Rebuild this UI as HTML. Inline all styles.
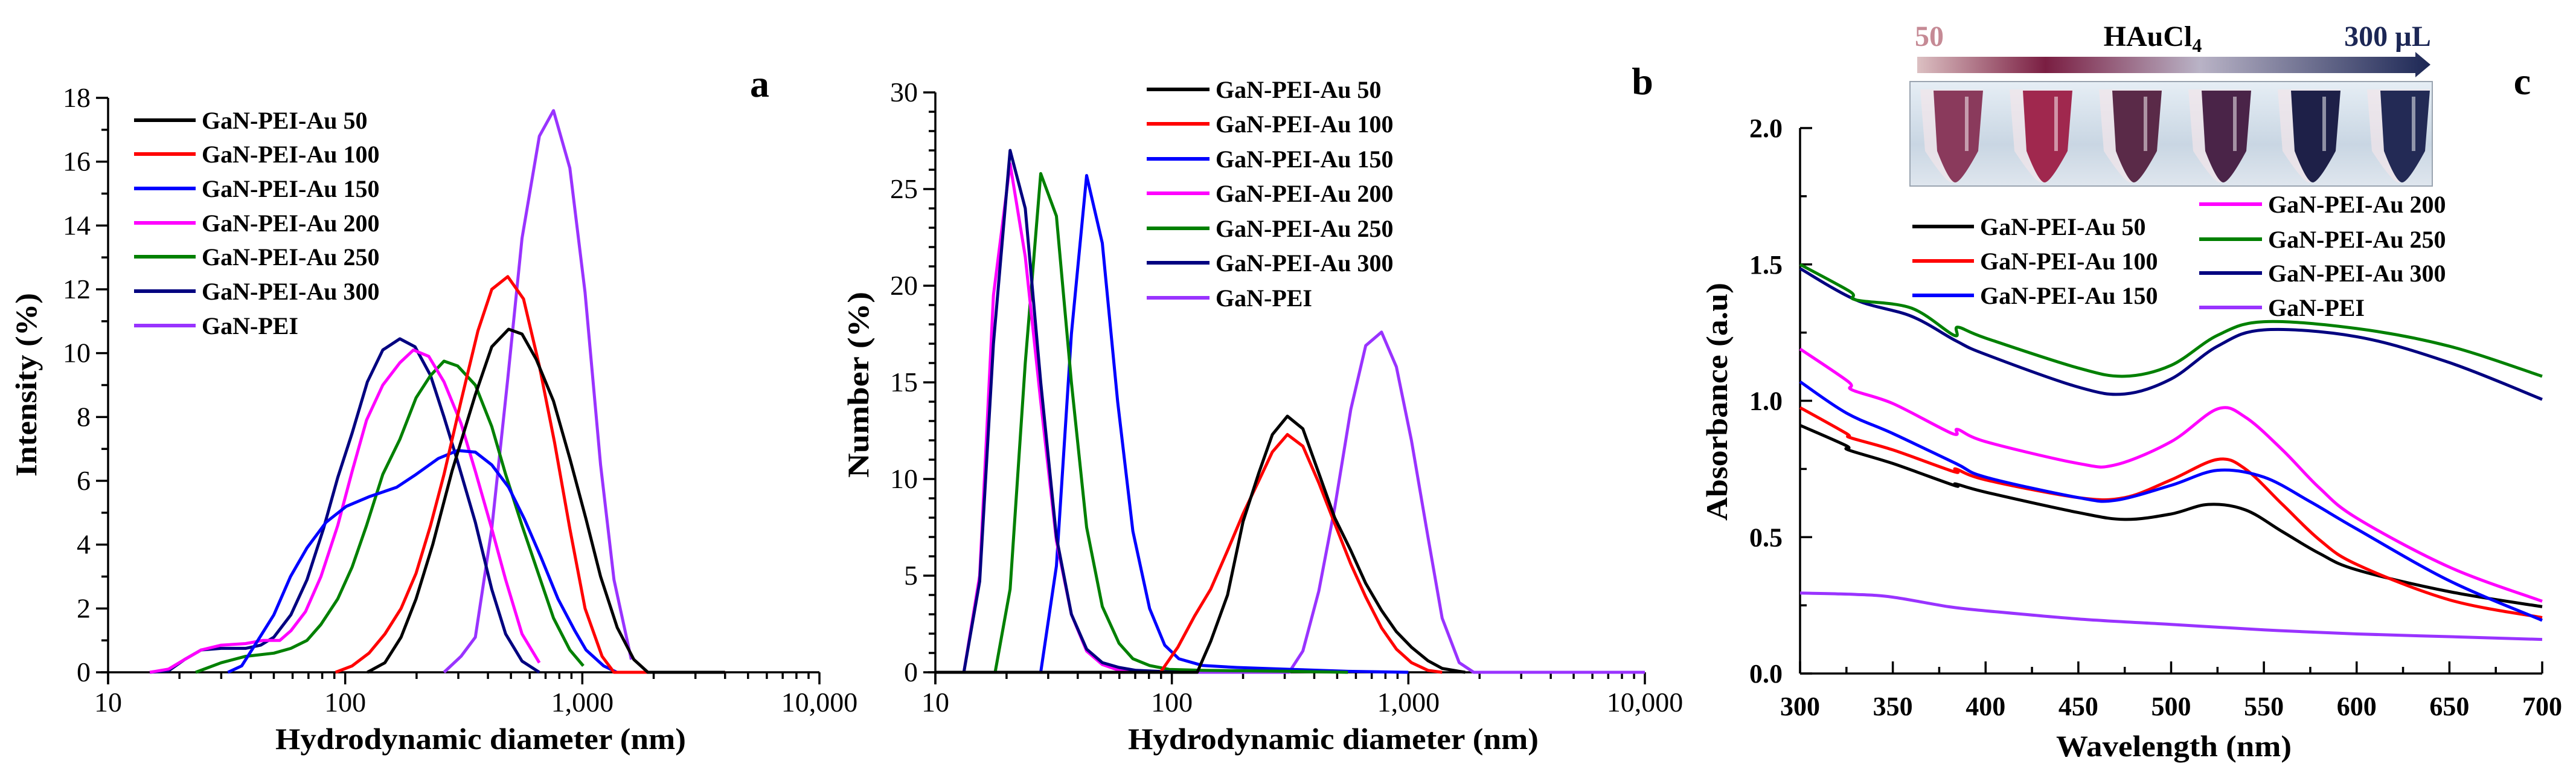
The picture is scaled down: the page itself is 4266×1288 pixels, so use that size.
<!DOCTYPE html>
<html><head><meta charset="utf-8">
<style>
html,body{margin:0;padding:0;background:#fff;}
svg{display:block;font-family:"Liberation Serif",serif;}
</style></head>
<body>
<svg id="fig" width="4266" height="1288" viewBox="0 0 4266 1288" xmlns="http://www.w3.org/2000/svg">
<defs>
<linearGradient id="arrowGrad" x1="0" x2="1" y1="0" y2="0">
<stop offset="0" stop-color="#dcc0c2"/><stop offset="0.25" stop-color="#7a1e42"/>
<stop offset="0.55" stop-color="#b9b3c6"/><stop offset="1" stop-color="#1c2755"/>
</linearGradient>
<linearGradient id="photoGrad" x1="0" x2="0" y1="0" y2="1">
<stop offset="0" stop-color="#e6eef5"/><stop offset="0.6" stop-color="#c9d6e3"/><stop offset="1" stop-color="#dfe6ee"/>
</linearGradient>
</defs>
</svg>
<script>
// ---------- Panel a data (Intensity vs diameter) ----------
const seriesNames = ["GaN-PEI-Au 50","GaN-PEI-Au 100","GaN-PEI-Au 150","GaN-PEI-Au 200","GaN-PEI-Au 250","GaN-PEI-Au 300","GaN-PEI"];
const seriesColors = ["#000000","#ff0000","#0000ff","#ff00ff","#008000","#000080","#9933ff"];
const aD50=[124,147,172,199,234,282,354,415,489,557,640,756,886,1037,1194,1404,1650,1890,4000];
const aV50=[0,0.3,1.1,2.3,4.0,6.3,8.7,10.2,10.75,10.6,9.8,8.5,6.7,4.8,3.0,1.4,0.4,0,0];
const aD100=[91,107,126,147,172,199,229,261,308,363,415,485,565,659,764,886,1027,1212,1360,4000];
const aV100=[0,0.2,0.6,1.2,2.0,3.1,4.6,6.2,8.5,10.7,12.0,12.4,11.7,9.6,7.2,4.5,2.0,0.5,0,0];
const aD150=[32,36.6,42,50,58.8,69,83,101,126,165,199,247,298,354,415,489,570,670,790,930,1037,1230,1400];
const aV150=[0,0.2,0.9,1.8,3.0,3.9,4.7,5.2,5.5,5.8,6.2,6.7,6.95,6.9,6.5,5.8,4.8,3.6,2.3,1.3,0.7,0.2,0];
const aD200=[15,18,21,24.7,30,38,45,53,59,68,79,93,107,123,144,170,194,225,261,308,354,415,475,557,659];
const aV200=[0,0.1,0.4,0.7,0.85,0.9,1.0,1.0,1.3,1.9,3.0,4.6,6.3,7.9,9.0,9.7,10.1,9.9,9.1,7.8,6.3,4.5,2.9,1.2,0.3];
const aD250=[23.4,30,38,50,59,69,79,93,107,123,144,170,199,229,261,298,354,415,475,557,659,756,886,1010];
const aV250=[0,0.3,0.5,0.6,0.75,1.0,1.5,2.3,3.3,4.6,6.2,7.3,8.6,9.3,9.75,9.6,9.0,7.7,6.2,4.6,3.0,1.7,0.7,0.2];
const aD300=[15,18,21,24.7,30,38,44,50,59,69,81,93,107,124,144,170,197,229,261,298,354,415,475,557,659];
const aV300=[0,0.05,0.4,0.7,0.75,0.75,0.85,1.1,1.8,2.9,4.5,6.1,7.5,9.1,10.1,10.45,10.2,9.3,8.0,6.6,4.7,2.6,1.2,0.35,0];
const aDPEI=[261,308,354,415,485,557,659,756,886,1027,1194,1360,1610];
const aVPEI=[0,0.5,1.1,4.5,9.2,13.6,16.8,17.6,15.8,11.9,6.5,2.9,0.4];
const aTickLabelsY=["0","2","4","6","8","10","12","14","16","18"];
const logTickLabels=["10","100","1,000","10,000"];

// ---------- Panel b data (Number vs diameter) ----------
const bD50=[10,128,146,172,200,233,266,308,358,418,488,571,660,770,890,1030,1210,1390,1740];
const bV50=[0,0,1.6,4,7.8,10.3,12.3,13.25,12.6,10.3,8.0,6.3,4.6,3.2,2.1,1.3,0.6,0.2,0];
const bD100=[10,89.5,106,124.6,146,172,200,233,266,308,358,418,488,571,660,770,890,1030,1210,1390];
const bV100=[0,0,1.3,2.9,4.3,6.3,8.2,9.9,11.4,12.3,11.7,9.8,7.7,5.6,3.9,2.3,1.2,0.5,0.1,0];
const bD150=[10,27.9,32.5,37.6,43.6,50.8,59,68.4,80.5,93.3,107,135,188,322,555,1000];
const bV150=[0,0,5.5,17.5,25.7,22.2,14,7.3,3.3,1.4,0.7,0.35,0.25,0.15,0.05,0];
const bD200=[10,13.2,15.4,17.6,20.7,24,27.9,32.5,37.6,43.6,50.8,59.8,70];
const bV200=[0,0,5,19.5,26.3,21.5,14,6.8,3,1.1,0.4,0.1,0];
const bD250=[10,17.9,20.7,24,27.9,32.5,37.6,43.6,50.8,59.8,68.4,80.5,97.5,135,322,555];
const bV250=[0,0,4.3,16,25.8,23.6,15,7.5,3.4,1.5,0.7,0.35,0.15,0.1,0.05,0];
const bD300=[10,13.2,15.4,17.6,20.7,24,27.9,32.5,37.6,43.6,50.8,59.8,70.5,87,108];
const bV300=[0,0,4.7,17,27.0,24.0,15,7,3.0,1.2,0.5,0.25,0.1,0.05,0];
const bDPEI=[10,313,358,418,488,571,660,770,890,1030,1210,1390,1640,1890,10000];
const bVPEI=[0,0,1.1,4.2,8.5,13.6,16.9,17.6,15.8,12,7,2.8,0.5,0,0];
const bTickLabelsY=["0","5","10","15","20","25","30"];

// ---------- Panel c data (Absorbance vs wavelength) ----------
const cW50=[300,325,326,350,383,384,400,450,475,500,520,540,560,580,600,650,700];
const cA50=[0.91,0.835,0.82,0.77,0.69,0.695,0.665,0.59,0.565,0.585,0.62,0.6,0.52,0.44,0.38,0.30,0.245];
const cW100=[300,325,327,350,383,384,400,450,475,500,525,540,560,580,600,650,700];
const cA100=[0.975,0.88,0.865,0.82,0.74,0.75,0.71,0.645,0.645,0.71,0.785,0.75,0.62,0.49,0.40,0.27,0.205];
const cW150=[300,325,350,384,400,450,470,500,525,550,575,600,650,700];
const cA150=[1.07,0.955,0.88,0.77,0.72,0.645,0.635,0.69,0.745,0.72,0.63,0.53,0.34,0.195];
const cW200=[300,326,328,350,382,385,400,450,470,500,525,540,560,580,600,650,700];
const cA200=[1.19,1.07,1.04,0.99,0.88,0.895,0.85,0.77,0.765,0.85,0.97,0.94,0.82,0.68,0.57,0.39,0.265];
const cW250=[300,327,330,360,383,385,400,450,475,500,525,550,600,650,700];
const cA250=[1.5,1.4,1.37,1.34,1.24,1.27,1.23,1.12,1.09,1.13,1.24,1.29,1.265,1.2,1.09];
const cW300=[300,330,360,384,400,450,475,500,525,550,600,650,700];
const cA300=[1.485,1.37,1.31,1.22,1.17,1.05,1.025,1.08,1.2,1.26,1.235,1.14,1.005];
const cWPEI=[300,330,350,380,400,450,500,550,600,650,700];
const cAPEI=[0.295,0.29,0.28,0.245,0.23,0.20,0.18,0.16,0.145,0.135,0.125];
const cTickLabelsX=["300","350","400","450","500","550","600","650","700"];
const cTickLabelsY=["0.0","0.5","1.0","1.5","2.0"];

const NS="http://www.w3.org/2000/svg";
const svg=document.getElementById('fig');
function el(tag,attrs,parent){const e=document.createElementNS(NS,tag);for(const k in attrs)e.setAttribute(k,attrs[k]);(parent||svg).appendChild(e);return e;}
function txt(s,attrs,parent){const t=el('text',attrs,parent);t.textContent=s;return t;}

function logAxis(x0,x1){return d=>x0+(Math.log10(d)-1)/3*(x1-x0);}
function linAxis(v0,v1,p0,p1){return v=>p0+(v-v0)/(v1-v0)*(p1-p0);}

function drawLine(g,xs,ys,X,Y,color,name,smooth){
  const P=xs.map((x,i)=>[X(x),Y(ys[i])]);
  let d='M'+P[0][0].toFixed(1)+','+P[0][1].toFixed(1);
  for(let i=1;i<P.length;i++){
    if(smooth){
      const p0=P[Math.max(0,i-2)],p1=P[i-1],p2=P[i],p3=P[Math.min(P.length-1,i+1)];
      const c1=[p1[0]+(p2[0]-p0[0])/6,p1[1]+(p2[1]-p0[1])/6];
      const c2=[p2[0]-(p3[0]-p1[0])/6,p2[1]-(p3[1]-p1[1])/6];
      d+='C'+c1[0].toFixed(1)+','+c1[1].toFixed(1)+' '+c2[0].toFixed(1)+','+c2[1].toFixed(1)+' '+p2[0].toFixed(1)+','+p2[1].toFixed(1);
    } else d+='L'+P[i][0].toFixed(1)+','+P[i][1].toFixed(1);
  }
  const p=el('path',{d:d,fill:'none',stroke:color,'stroke-width':5,'stroke-linejoin':'round'},g);
  
  
}
function legend(g,x,y,i,lineW,fs){
  const lg=el('g',{},g);
  
  
  el('line',{x1:x,x2:x+lineW,y1:y,y2:y,stroke:seriesColors[i],'stroke-width':6},lg);
  txt(seriesNames[i],{x:x+lineW+10,y:y+14,'font-size':fs,'font-weight':'bold'},lg);
}
function logPanel(name,x0,x1,yBase,yTop,ymax,ymajor,yminor,labelsY,labelRightX,title,titleX,ytitle,ytitleX,ytitleLen){
  const g=el('g',{});  
  const X=logAxis(x0,x1), Y=linAxis(0,ymax,yBase,yTop);
  const ax=el('g',{stroke:'#000','stroke-width':3.5},g);
   
  el('line',{x1:x0-12,x2:x1,y1:yBase,y2:yBase},ax);
  el('line',{x1:x0,x2:x0,y1:yBase+20,y2:yTop},ax);
  for(let dec=1;dec<=4;dec++){for(let m=1;m<=9;m++){const v=m*Math.pow(10,dec);if(dec===4&&m>1)break;
    el('line',{x1:X(v),x2:X(v),y1:yBase,y2:yBase+(m===1?20:11)},ax);}}
  for(let v=0;v<=ymax+1e-9;v+=yminor){const maj=Math.abs(v/ymajor-Math.round(v/ymajor))<1e-6;
    el('line',{x1:x0,x2:x0-(maj?20:11),y1:Y(v),y2:Y(v)},ax);}
  labelsY.forEach((s,i)=>{const t=txt(s,{x:labelRightX,y:Y(i*ymajor)+15,'font-size':46,'text-anchor':'end'},g);
     });
  logTickLabels.forEach((s,i)=>{const t=txt(s,{x:X(Math.pow(10,i+1)),y:1178,'font-size':46,'text-anchor':'middle'},g);
     });
  const xt=txt(title,{x:titleX,y:1240,'font-size':50,'font-weight':'bold','text-anchor':'middle',textLength:680,lengthAdjust:'spacingAndGlyphs'},g);
   
  const yt=txt(ytitle,{x:0,y:0,'font-size':50,'font-weight':'bold','text-anchor':'middle',transform:`translate(${ytitleX},637) rotate(-90)`,textLength:ytitleLen,lengthAdjust:'spacingAndGlyphs'},g);
   
  return {g,X,Y};
}

// Panel a
const A=logPanel('panel-a',179,1357,1113,162,18,2,1,aTickLabelsY,150,'Hydrodynamic diameter (nm)',796,'Intensity (%)',60,304);
const aD=[aD50,aD100,aD150,aD200,aD250,aD300,aDPEI], aV=[aV50,aV100,aV150,aV200,aV250,aV300,aVPEI];
[6,5,4,3,2,1,0].forEach(i=>drawLine(A.g,aD[i],aV[i],A.X,A.Y,seriesColors[i],'series-a-'+i,false));
[199,255,312,369,425,482,539].forEach((y,i)=>legend(A.g,222,y,i,102,40));
let la=txt('a',{x:1258,y:160,'font-size':64,'font-weight':'bold','text-anchor':'middle'},A.g);
 

// Panel b
const B=logPanel('panel-b',1549,2724,1113,153,30,5,1,bTickLabelsY,1520,'Hydrodynamic diameter (nm)',2208,'Number (%)',1438,308);
const bD=[bD50,bD100,bD150,bD200,bD250,bD300,bDPEI], bV=[bV50,bV100,bV150,bV200,bV250,bV300,bVPEI];
[6,2,4,3,5,1,0].forEach(i=>drawLine(B.g,bD[i],bV[i],B.X,B.Y,seriesColors[i],'series-b-'+i,false));
[148,205,263,320,378,435,493].forEach((y,i)=>legend(B.g,1899,y,i,104,40));
let lb=txt('b',{x:2720,y:156,'font-size':64,'font-weight':'bold','text-anchor':'middle'},B.g);
 

// Panel c
(function(){
  const g=el('g',{});  
  const X=linAxis(300,700,2981,4210), Y=linAxis(0,2,1115,212);
  const ax=el('g',{stroke:'#000','stroke-width':3.5},g);
   
  el('line',{x1:2981,x2:4210,y1:1115,y2:1115},ax);
  el('line',{x1:2981,x2:2981,y1:1115,y2:212},ax);
  for(let w=300;w<=700;w+=25){const maj=(w%50===0);el('line',{x1:X(w),x2:X(w),y1:1115,y2:1115-(maj?20:11)},ax);}
  for(let v=0;v<=2.0001;v+=0.25){const maj=Math.abs(v*2-Math.round(v*2))<1e-6;el('line',{x1:2981,x2:2981+(maj?20:11),y1:Y(v),y2:Y(v)},ax);}
  cTickLabelsX.forEach((s,i)=>{const t=txt(s,{x:X(300+50*i),y:1184,'font-size':44,'font-weight':'bold','text-anchor':'middle'},g);
     });
  cTickLabelsY.forEach((s,i)=>{const t=txt(s,{x:2952,y:Y(i*0.5)+15,'font-size':44,'font-weight':'bold','text-anchor':'end'},g);
     });
  const xt=txt('Wavelength (nm)',{x:3600,y:1252,'font-size':50,'font-weight':'bold','text-anchor':'middle',textLength:390,lengthAdjust:'spacingAndGlyphs'},g);
   
  const yt=txt('Absorbance (a.u)',{x:0,y:0,'font-size':50,'font-weight':'bold','text-anchor':'middle',transform:'translate(2860,665) rotate(-90)',textLength:394,lengthAdjust:'spacingAndGlyphs'},g);
   
  const cW=[cW50,cW100,cW150,cW200,cW250,cW300,cWPEI], cA=[cA50,cA100,cA150,cA200,cA250,cA300,cAPEI];
  [6,0,1,2,3,5,4].forEach(i=>drawLine(g,cW[i],cA[i],X,Y,seriesColors[i],'series-c-'+i,true));
  [375,432,489].forEach((y,i)=>legend(g,3167,y,i,102,40));
  [338,396,452,509].forEach((y,i)=>legend(g,3642,y,i+3,104,40));
  let lc=txt('c',{x:4177,y:156,'font-size':64,'font-weight':'bold','text-anchor':'middle'},g);
   
  // inset
  const ins=el('g',{},g);  
  el('rect',{x:3163,y:135,width:865,height:173,fill:'url(#photoGrad)',stroke:'#9aa4b0','stroke-width':2},ins);
  const tubeCols=['#8a3a5c','#a0284e','#5a2a48','#4a2448','#1e2048','#232a55'];
  tubeCols.forEach((c,i)=>{const cx=3232+i*148;
    el('path',{d:`M${cx-52},148 L${cx+52},148 L${cx+44},250 Q${cx+10},302 ${cx},302 Q${cx-10},302 ${cx-44},250 Z`,fill:'#f2e6ea',opacity:0.7},ins);
    el('path',{d:`M${cx-30},150 L${cx+52},150 L${cx+44},250 Q${cx+16},302 ${cx+6},302 Q${cx-4},302 ${cx-24},250 Z`,fill:c},ins);
    el('rect',{x:cx+22,y:160,width:6,height:90,fill:'#ffffff',opacity:0.5},ins);});
  const ar=el('g',{},g);  
  el('path',{d:'M3175,94 L4000,94 L4000,86 L4025,107 L4000,128 L4000,121 L3175,121 Z',fill:'url(#arrowGrad)'},ar);
  let t1=txt('50',{x:3195,y:76,'font-size':48,'font-weight':'bold','text-anchor':'middle',fill:'#c58a95'},ar);
   
  let t2=el('text',{x:3565,y:76,'font-size':48,'font-weight':'bold','text-anchor':'middle'},ar);
  t2.innerHTML='HAuCl<tspan font-size="32" dy="10">4</tspan>';
   
  let t3=txt('300 µL',{x:3954,y:76,'font-size':48,'font-weight':'bold','text-anchor':'middle',fill:'#1c2755'},ar);
   
})();
</script>
</body></html>
